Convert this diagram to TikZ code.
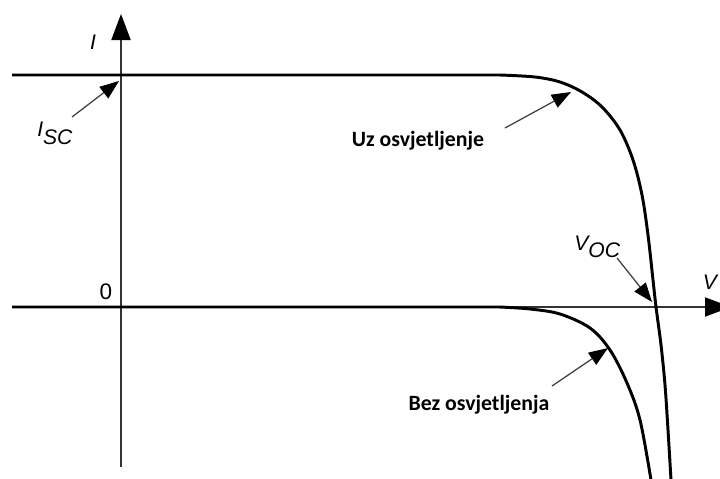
\documentclass[tikz,border=0pt]{standalone}
\usepackage{fontspec}
\setmainfont{Liberation Sans}
\newfontfamily\lblfont{Carlito}
\usetikzlibrary{arrows.meta}
\begin{document}
\begin{tikzpicture}[x=0.025cm,y=-0.025cm,
  axis/.style={line width=0.9pt,draw=black!80},
  curve/.style={line width=2.1pt,line join=round},
  ptr/.style={line width=0.9pt,draw=black!75,-{Triangle[length=0.48cm,width=0.36cm,color=black]}},
  axtip/.style={-{Triangle[length=0.65cm,width=0.48cm,color=black]}},
  sym/.style={font=\fontsize{15}{15}\selectfont\itshape,inner sep=0pt},
  desc/.style={font=\lblfont\bfseries\fontsize{15.5}{15.5}\selectfont,inner sep=0pt}]
\useasboundingbox (0,0) rectangle (720,478);
% axes
\coordinate (vbot) at (121,467);
\coordinate (vtop) at (121,14);
\coordinate (hleft) at (12,307);
\coordinate (hright) at (731,307);
\draw[axis,axtip] (vbot) -- (vtop);
\draw[axis,axtip] (hleft) -- (hright);
% curves
\draw[curve] (12,75) -- (500,75) plot[smooth,tension=0.55] coordinates
  {(500,75) (535,77) (560,82) (582,92) (602,107) (620,130) (633,160) (642,195) (648,235) (653,280) (656,307) (661,345) (665,385) (668,430) (671,480)};
\draw[curve] (12,307) -- (500,307) plot[smooth,tension=0.55] coordinates
  {(500,307) (530,309) (560,314) (590,328) (610,350) (627,383) (640,420) (651,480)};
% labels
\node[sym] (lI) at (93,42) {I};
\node[font=\fontsize{16}{16}\selectfont,inner sep=0pt] (l0) at (106,292) {0};
\node[sym] (lV) at (710,282) {V};
\node[sym,anchor=base west] (lisc) at (37,137) {I\textsubscript{\fontsize{15}{15}\selectfont SC}};
\node[sym,anchor=base west] (lvoc) at (574,250) {V\textsubscript{\fontsize{15}{15}\selectfont OC}};
\node[desc] (luz) at (418,141) {Uz osvjetljenje};
\node[desc] (lbez) at (479,405) {Bez osvjetljenja};
% pointers
\coordinate (tisc) at (72,117); \coordinate (hisc) at (119,81);
\coordinate (tuz) at (505,128); \coordinate (huz) at (571,92);
\coordinate (tvoc) at (617,258); \coordinate (hvoc) at (652,302);
\coordinate (tbez) at (552,386); \coordinate (hbez) at (608,348);
\draw[ptr] (tisc) -- (hisc);
\draw[ptr] (tuz) -- (huz);
\draw[ptr] (tvoc) -- (hvoc);
\draw[ptr] (tbez) -- (hbez);
\end{tikzpicture}
\end{document}
